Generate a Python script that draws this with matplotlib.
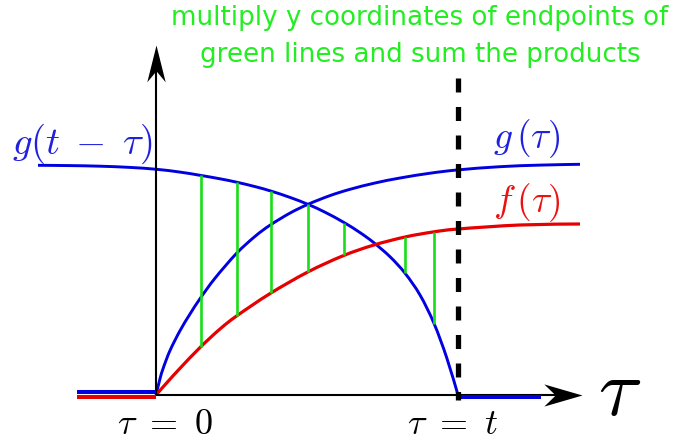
import numpy as np
import matplotlib.pyplot as plt
from matplotlib.path import Path
from matplotlib.patches import PathPatch
from matplotlib.transforms import ScaledTranslation

plt.rcParams['mathtext.fontset'] = 'cm'

# kernel g(tau) (tau in units of t)
tau_g = [0, 0.0132, 0.0242, 0.0464, 0.0795, 0.1126, 0.1457, 0.1954, 0.2672, 0.3278,
         0.3775, 0.4437, 0.5033, 0.5762, 0.6424, 0.7252, 0.8079, 0.9073, 1.0, 1.1391,
         1.2715, 1.404]
g_vals = [0, 0.0698, 0.1168, 0.1918, 0.2772, 0.3491, 0.4151, 0.5034, 0.6112, 0.6836,
          0.7319, 0.7841, 0.822, 0.8595, 0.8866, 0.9138, 0.9353, 0.956, 0.9703, 0.9841,
          0.9909, 0.9944]

# flipped and shifted kernel g(t - tau)
tau_gs = [-0.3907, -0.2848, -0.1854, -0.0861, 0.0023, 0.0795, 0.1457, 0.2119, 0.2672,
          0.3278, 0.3798, 0.4437, 0.5043, 0.5596, 0.6225, 0.6755, 0.7196, 0.7748, 0.8245,
          0.8742, 0.9205, 0.9626, 1.0]
gs_vals = [0.9901, 0.9888, 0.9862, 0.981, 0.9728, 0.9608, 0.947, 0.9319, 0.9172, 0.8983,
           0.8793, 0.8517, 0.8211, 0.7879, 0.7435, 0.7, 0.6582, 0.5961, 0.525, 0.431,
           0.3086, 0.1608, 0]

# signal f(tau)
tau_f = [0, 0.0354, 0.0795, 0.1457, 0.2119, 0.2672, 0.3775, 0.5033, 0.6192, 0.7185,
         0.8245, 0.9172, 1.0, 1.2053, 1.404]
f_vals = [0, 0.0522, 0.1151, 0.2047, 0.2845, 0.3409, 0.4371, 0.5306, 0.6, 0.6453,
          0.681, 0.7026, 0.7155, 0.7328, 0.7371]

# where the products are taken
tau_green = [0.148, 0.267, 0.380, 0.504, 0.623, 0.825, 0.921]

t = 1.0
tau_min, tau_max = -0.262, 1.275

blue = '#0000e0'
red = '#e60000'
green = '#18dd18'

fig = plt.figure(figsize=(6.87, 4.42), dpi=100)
ax = fig.add_axes([0, 0, 1, 1])
ax.set_xlim(-156 / 302, 531 / 302)
ax.set_ylim(-47 / 232, 395 / 232)
ax.axis('off')


def head(direction, half_w):
    # stealth-style arrow head with the tip at the origin
    verts = np.array([(0, 0), (-1, half_w), (-0.7, 0), (-1, -half_w), (0, 0)])
    if direction == 'up':
        verts = verts[:, ::-1]
    codes = [Path.MOVETO, Path.LINETO, Path.LINETO, Path.LINETO, Path.CLOSEPOLY]
    return Path(verts, codes)


def smooth(x, y, **kw):
    # Catmull-Rom spline through the samples, drawn as cubic Bezier pieces
    pts = np.column_stack([x, y])
    verts, codes = [pts[0]], [Path.MOVETO]
    n = len(pts)
    for i in range(n - 1):
        p0 = pts[max(i - 1, 0)]
        p1, p2 = pts[i], pts[i + 1]
        p3 = pts[min(i + 2, n - 1)]
        verts += [p1 + (p2 - p0) / 6, p2 - (p3 - p1) / 6, p2]
        codes += [Path.CURVE4] * 3
    ax.add_patch(PathPatch(Path(verts, codes), fill=False, capstyle='butt', **kw))


# axes with arrows
y_top, x_end = 1.509, 1.411
ax.plot([0, 0], [0, y_top - 0.1], color='black', lw=1.5, solid_capstyle='butt')
ax.plot([0, x_end - 0.08], [0, 0], color='black', lw=1.5, solid_capstyle='butt')
ax.plot([0], [y_top], marker=head('up', 0.25), ms=53, color='black', mew=0)
ax.plot([x_end], [0], marker=head('right', 0.29), ms=55, color='black', mew=0)

# zero parts of g and f on the axis
up = ScaledTranslation(0, 2.5 / 72, fig.dpi_scale_trans)
down = ScaledTranslation(0, -1.5 / 72, fig.dpi_scale_trans)
ax.plot([tau_min, 0], [0, 0], color=blue, lw=2.9, solid_capstyle='butt',
        transform=ax.transData + up)
ax.plot([tau_min, 0], [0, 0], color=red, lw=2.9, solid_capstyle='butt',
        transform=ax.transData + down)
ax.plot([t, tau_max], [0, 0], color=blue, lw=2.9, solid_capstyle='butt',
        transform=ax.transData + down)

# green segments between f(tau) and g(t - tau)
f_at = np.interp(tau_green, tau_f, f_vals)
gs_at = np.interp(tau_green, tau_gs, gs_vals)
ax.vlines(tau_green, f_at, gs_at, color=green, lw=1.9)

# curves
smooth(tau_g, g_vals, edgecolor=blue, lw=2.1)
smooth(tau_gs, gs_vals, edgecolor=blue, lw=2.1)
smooth(tau_f, f_vals, edgecolor=red, lw=2.3)

# tau = t marker
ax.plot([t, t], [1.366, -0.022], color='black', lw=3.8, ls=(0, (2.65, 2.75)))

# labels
ax.text(-0.477, 1.039, r'$g(t\;-\;\tau)$', color='#2020e0', fontsize=28, va='baseline')
ax.text(1.116, 1.0625, r'$g\,(\tau)$', color='#2020e0', fontsize=27, va='baseline')
ax.text(1.116, 0.787, r'$f\,(\tau)$', color='#ee1010', fontsize=27, va='baseline')
ax.text(0.03, -0.168, r'$\tau\ =\ 0$', fontsize=26, ha='center', va='baseline')
ax.text(0.983, -0.168, r'$\tau\ =\ t$', fontsize=26, ha='center', va='baseline')
ax.text(1.464, -0.086, r'$\tau$', fontsize=58, va='baseline')

ax.text(0.874, 1.595, 'multiply y coordinates of endpoints of', color='#22ee22',
        fontsize=18.8, ha='center', va='baseline')
ax.text(0.874, 1.4366, 'green lines and sum the products', color='#22ee22',
        fontsize=18.8, ha='center', va='baseline')

fig.savefig('out.png', dpi=100)
